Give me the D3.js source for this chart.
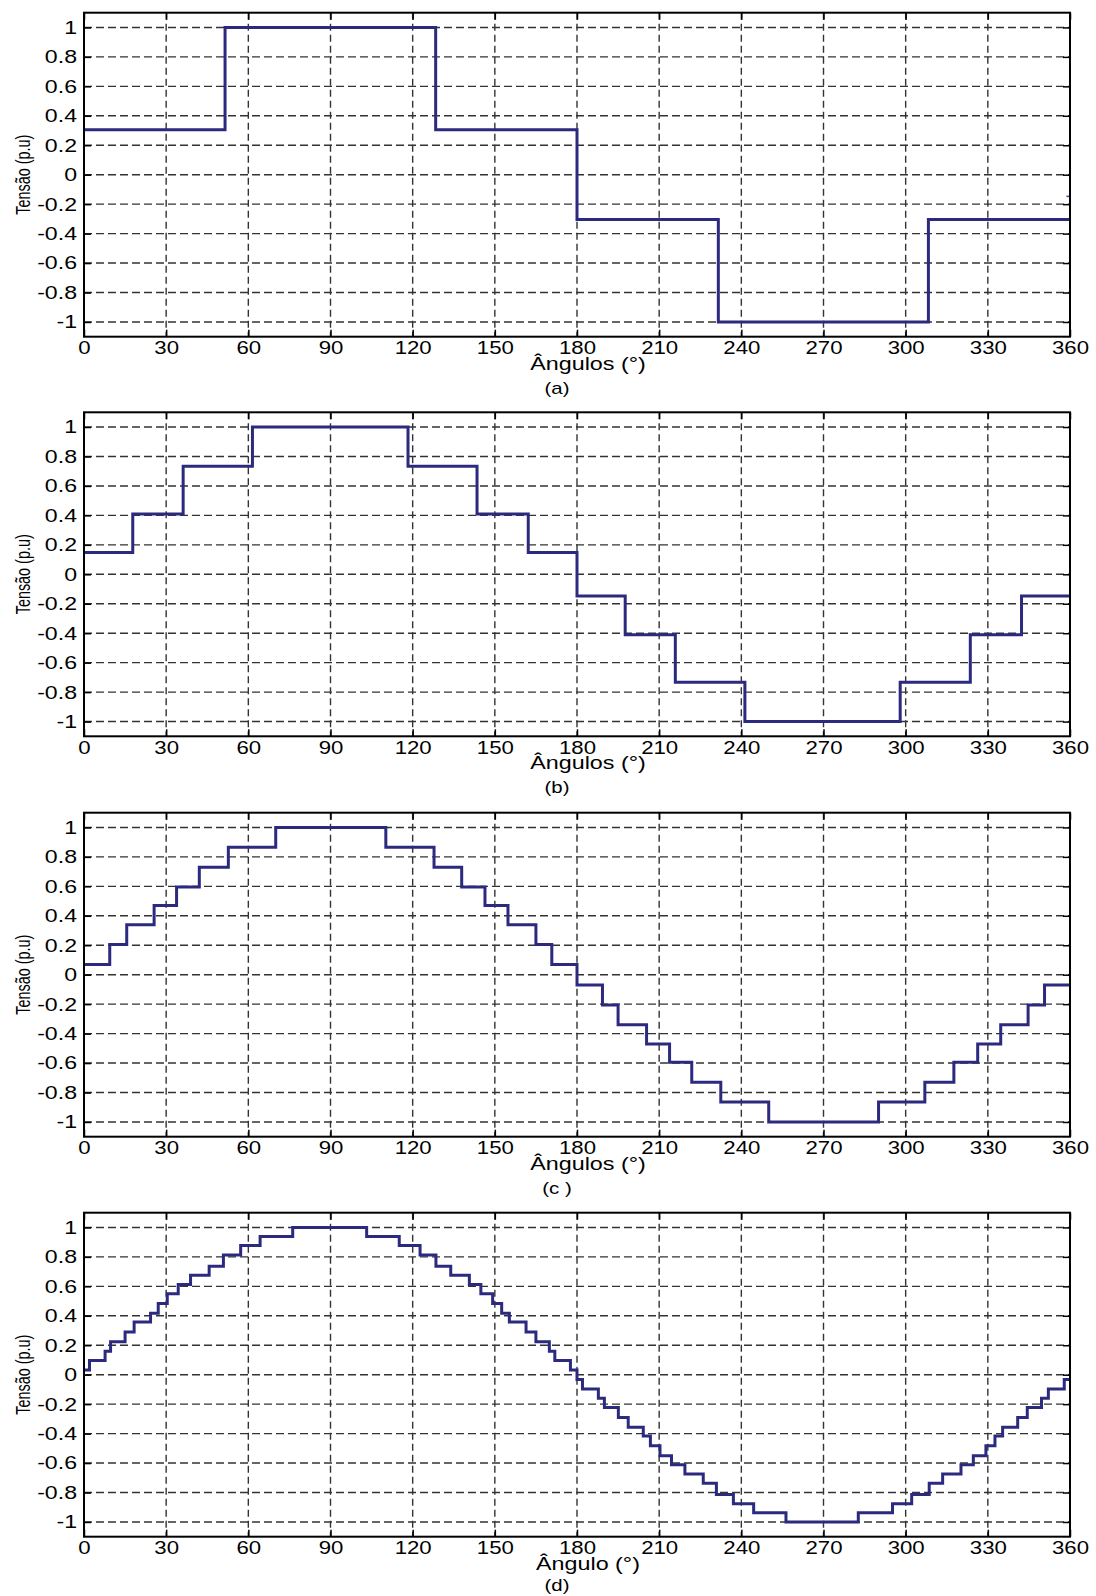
<!DOCTYPE html>
<html>
<head>
<meta charset="utf-8">
<script src="https://cdn.jsdelivr.net/npm/d3@7"></script>
<style>
body { margin: 0; background: #fff; }
svg text { font-family: "Liberation Sans", Arial, sans-serif; fill: #000; }
</style>
</head>
<body>
<svg id="chart" width="1096" height="1596"></svg>
<script>
// tick values
const angleTicks = [0, 30, 60, 90, 120, 150, 180, 210, 240, 270, 300, 330, 360];
const voltTicks = [-1, -0.8, -0.6, -0.4, -0.2, 0, 0.2, 0.4, 0.6, 0.8, 1];

// (a) each step starts at breaksX[i] and holds levelsX[i]
const breaksA = [0, 51.5, 128.4, 180, 231.6, 308.3];
const levelsA = [0.305, 1, 0.305, -0.305, -1, -0.305];
// small stray blue mark at the right edge of (a)
const stubAngleA = [358.7, 360];
const stubLevelA = [-0.147, -0.147];

// (b)
const breaksB = [0, 17.8, 36.2, 61.5, 118.3, 143.5, 162.2, 180, 197.6, 215.9, 241.3, 298.0, 323.6, 342.3];
const levelsB = [0.148, 0.41, 0.733, 1, 0.733, 0.41, 0.148, -0.148, -0.41, -0.733, -1, -0.733, -0.41, -0.148];

// (c)
const breaksC = [0, 9.4, 15.6, 25.6, 33.8, 42.1, 52.7, 70.0,
    110.2, 127.8, 137.9, 146.4, 154.8, 165.0, 170.8,
    180, 189.3, 195.0, 205.4, 213.8, 221.9, 232.5, 250.0,
    290.1, 307.0, 317.6, 326.3, 334.7, 344.7, 350.7];
const levelsC = [0.07, 0.205, 0.34, 0.47, 0.595, 0.73, 0.865, 1,
    0.865, 0.73, 0.595, 0.47, 0.34, 0.205, 0.07,
    -0.07, -0.205, -0.34, -0.47, -0.595, -0.73, -0.865, -1,
    -0.865, -0.73, -0.595, -0.47, -0.34, -0.205, -0.07];

// (d)
const breaksD = [0, 2.0, 7.7, 9.7, 15.0, 18.3, 24.3, 27.1, 30.4, 34.4, 38.9, 45.7, 50.9, 57.2, 64.3, 76.2,
    103.2, 115.1, 122.7, 128.5, 133.9, 140.7, 144.9, 149.2, 152.5, 155.3, 161.4, 165.0, 169.9, 171.9, 177.6,
    180, 182.0, 187.8, 190.0, 195.1, 198.7, 204.2, 206.8, 210.3, 214.5, 219.4, 226.1, 230.9, 237.1, 244.5, 256.3,
    282.7, 295.2, 302.2, 308.6, 313.5, 320.2, 324.7, 329.3, 332.6, 335.4, 340.9, 344.4, 349.6, 352.1, 357.9];
const levelsD = [0.032, 0.097, 0.16, 0.223, 0.29, 0.357, 0.417, 0.483, 0.55, 0.612, 0.675, 0.737, 0.813, 0.877, 0.938, 1,
    0.938, 0.877, 0.813, 0.737, 0.675, 0.612, 0.55, 0.483, 0.417, 0.357, 0.29, 0.223, 0.16, 0.097, 0.032,
    -0.032, -0.097, -0.16, -0.223, -0.29, -0.357, -0.417, -0.483, -0.55, -0.612, -0.675, -0.737, -0.813, -0.877, -0.938, -1,
    -0.938, -0.877, -0.813, -0.737, -0.675, -0.612, -0.55, -0.483, -0.417, -0.357, -0.29, -0.223, -0.16, -0.097, -0.032];

const panels = [
    { breaks: breaksA, levels: levelsA, xTitle: "Ângulos (°)", tag: "(a)" },
    { breaks: breaksB, levels: levelsB, xTitle: "Ângulos (°)", tag: "(b)" },
    { breaks: breaksC, levels: levelsC, xTitle: "Ângulos (°)", tag: "(c )" },
    { breaks: breaksD, levels: levelsD, xTitle: "Ângulo (°)", tag: "(d)" }
];

const svg = d3.select("#chart");
const left = 84, plotW = 986, plotH = 324;
const tops = [12.7, 412.3, 812.7, 1212.7];
const lineColor = "#2c2a7e";

const x = d3.scaleLinear().domain([0, 360]).range([0, plotW]);
const y = d3.scaleLinear().domain([-1.1, 1.1]).range([plotH, 0]);

const stepLine = d3.line()
    .x(d => x(d[0]))
    .y(d => y(d[1]))
    .curve(d3.curveStepAfter);

// the original lettering is wider than Liberation Sans at the same height
function widen(sel, k) {
    sel.each(function () {
        const w = this.getComputedTextLength();
        d3.select(this)
            .attr("textLength", w * k)
            .attr("lengthAdjust", "spacingAndGlyphs");
    });
}

function styleAxis(g) {
    g.select(".domain").remove();
    g.selectAll(".tick line").attr("stroke", "#000").attr("stroke-width", 1.5);
    g.attr("font-family", null).attr("font-size", null);
    g.selectAll("text").attr("font-size", 18.5).attr("fill", "#111");
}

panels.forEach((p, i) => {
    const g = svg.append("g").attr("transform", `translate(${left},${tops[i]})`);

    // dashed grid
    g.append("g")
        .selectAll("line")
        .data(voltTicks)
        .join("line")
        .attr("x1", 0)
        .attr("x2", plotW)
        .attr("y1", d => y(d))
        .attr("y2", d => y(d))
        .attr("stroke", "#333")
        .attr("stroke-width", 1.4)
        .attr("stroke-dasharray", "8,4");

    g.append("g")
        .selectAll("line")
        .data(angleTicks.slice(1, -1))
        .join("line")
        .attr("x1", d => x(d))
        .attr("x2", d => x(d))
        .attr("y1", 0)
        .attr("y2", plotH)
        .attr("stroke", "#333")
        .attr("stroke-width", 1.4)
        .attr("stroke-dasharray", "7,4");

    // inward ticks on all four sides, labels on left and bottom
    const bottom = g.append("g")
        .attr("transform", `translate(0,${plotH})`)
        .call(d3.axisBottom(x).tickValues(angleTicks).tickSize(-7).tickPadding(4.5).tickFormat(d => String(d)))
        .call(styleAxis);
    widen(bottom.selectAll("text"), 1.2);

    g.append("g")
        .call(d3.axisTop(x).tickValues(angleTicks).tickSize(-7).tickFormat(""))
        .call(styleAxis);

    const leftAx = g.append("g")
        .call(d3.axisLeft(y).tickValues(voltTicks).tickSize(-7).tickPadding(7).tickFormat(d => String(d)))
        .call(styleAxis);
    widen(leftAx.selectAll("text"), 1.25);

    g.append("g")
        .attr("transform", `translate(${plotW},0)`)
        .call(d3.axisRight(y).tickValues(voltTicks).tickSize(-7).tickFormat(""))
        .call(styleAxis);

    // stepped waveform
    const pts = p.breaks.map((b, j) => [b, p.levels[j]]);
    pts.push([360, p.levels[p.levels.length - 1]]);
    g.append("path")
        .attr("d", stepLine(pts))
        .attr("fill", "none")
        .attr("stroke", lineColor)
        .attr("stroke-width", 3)
        .attr("stroke-linejoin", "miter");

    if (i === 0) {
        g.append("path")
            .attr("d", d3.line().x(d => x(d[0])).y(d => y(d[1]))(stubAngleA.map((a, j) => [a, stubLevelA[j]])))
            .attr("stroke", "#3a3ad0")
            .attr("stroke-width", 1.5);
    }

    // frame
    g.append("rect")
        .attr("width", plotW)
        .attr("height", plotH)
        .attr("fill", "none")
        .attr("stroke", "#000")
        .attr("stroke-width", 2);

    // titles
    g.append("text")
        .attr("transform", `translate(-54,${plotH / 2}) rotate(-90)`)
        .attr("text-anchor", "middle")
        .attr("font-size", 20)
        .attr("textLength", 80)
        .attr("lengthAdjust", "spacingAndGlyphs")
        .text("Tensão (p.u)");

    const xt = g.append("text")
        .attr("x", 504)
        .attr("y", plotH + 33)
        .attr("text-anchor", "middle")
        .attr("font-size", 18.5)
        .text(p.xTitle);
    widen(xt, 1.26);

    const tg = g.append("text")
        .attr("x", 473)
        .attr("y", plotH + (i === 3 ? 54 : 57))
        .attr("text-anchor", "middle")
        .attr("font-size", 17)
        .text(p.tag);
    widen(tg, 1.2);
});
</script>
</body>
</html>
